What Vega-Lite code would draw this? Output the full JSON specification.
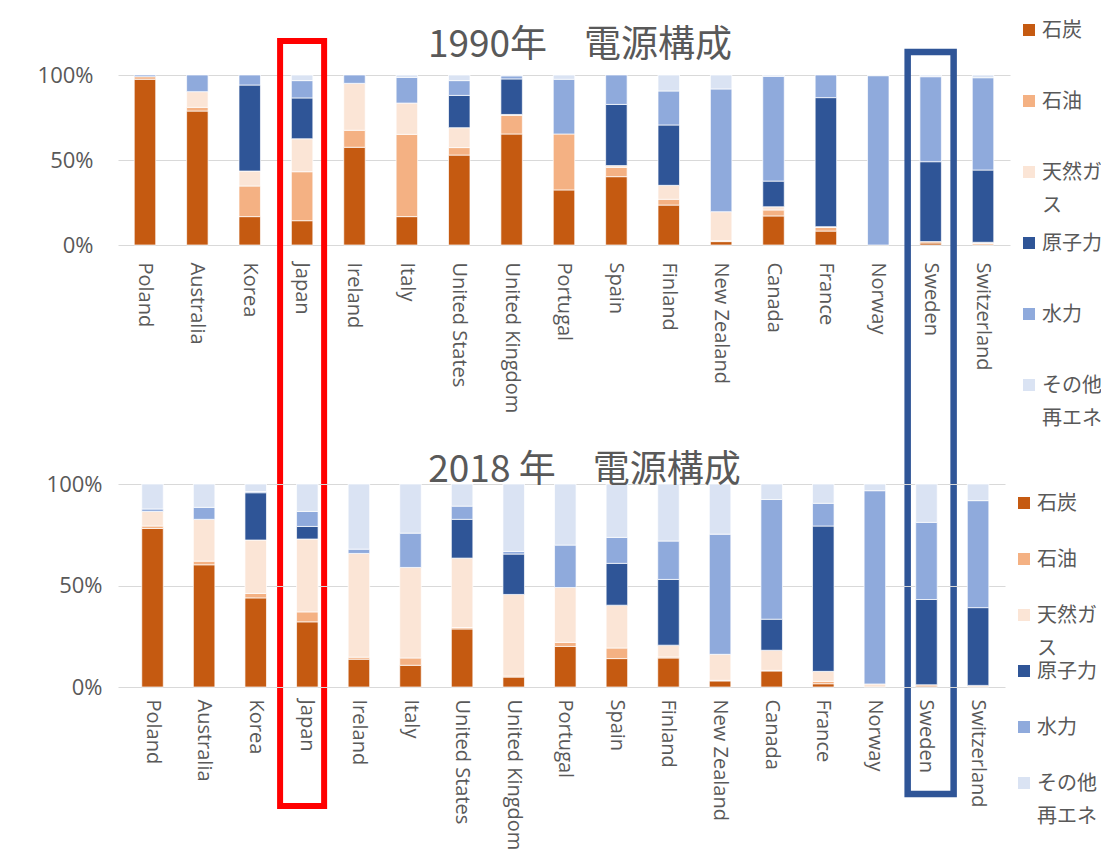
{
  "$schema": "https://vega.github.io/schema/vega-lite/v6.json",
  "usermeta": {"embedOptions": {"actions": false}},
  "background": "white",
  "padding": {"left": 37, "top": 20, "right": 0, "bottom": 0},
  "config": {
    "font": "Open Sans",
    "view": {"stroke": null},
    "title": {"font": "Noto Sans CJK JP", "fontSize": 37, "fontWeight": "normal", "color": "#595959", "anchor": "middle", "frame": "group"},
    "axis": {"labelColor": "#595959", "gridColor": "#D9D9D9", "gridWidth": 1, "domain": false, "ticks": false, "labelFont": "Open Sans"},
    "legend": {"labelFont": "Noto Sans CJK JP", "labelFontSize": 20, "labelColor": "#595959", "symbolType": "square", "symbolSize": 144, "symbolStrokeWidth": 0, "labelOffset": 3, "padding": 0}
  },
  "datasets": {
    "y1990": [
      {"country": "Poland", "source": "石炭", "share": 97.5}, {"country": "Poland", "source": "石油", "share": 1.5}, {"country": "Poland", "source": "水力", "share": 1.0},
      {"country": "Australia", "source": "石炭", "share": 78.8}, {"country": "Australia", "source": "石油", "share": 2.2}, {"country": "Australia", "source": "天然ガス", "share": 9.2}, {"country": "Australia", "source": "水力", "share": 9.8},
      {"country": "Korea", "source": "石炭", "share": 16.7}, {"country": "Korea", "source": "石油", "share": 18.0}, {"country": "Korea", "source": "天然ガス", "share": 8.8}, {"country": "Korea", "source": "原子力", "share": 50.6}, {"country": "Korea", "source": "水力", "share": 5.9},
      {"country": "Japan", "source": "石炭", "share": 14.3}, {"country": "Japan", "source": "石油", "share": 28.8}, {"country": "Japan", "source": "天然ガス", "share": 19.4}, {"country": "Japan", "source": "原子力", "share": 24.0}, {"country": "Japan", "source": "水力", "share": 10.2}, {"country": "Japan", "source": "その他再エネ", "share": 3.3},
      {"country": "Ireland", "source": "石炭", "share": 57.5}, {"country": "Ireland", "source": "石油", "share": 10.0}, {"country": "Ireland", "source": "天然ガス", "share": 27.6}, {"country": "Ireland", "source": "水力", "share": 4.9},
      {"country": "Italy", "source": "石炭", "share": 16.7}, {"country": "Italy", "source": "石油", "share": 48.4}, {"country": "Italy", "source": "天然ガス", "share": 18.4}, {"country": "Italy", "source": "水力", "share": 15.1}, {"country": "Italy", "source": "その他再エネ", "share": 1.4},
      {"country": "United States", "source": "石炭", "share": 52.9}, {"country": "United States", "source": "石油", "share": 4.4}, {"country": "United States", "source": "天然ガス", "share": 11.7}, {"country": "United States", "source": "原子力", "share": 19.0}, {"country": "United States", "source": "水力", "share": 8.7}, {"country": "United States", "source": "その他再エネ", "share": 3.3},
      {"country": "United Kingdom", "source": "石炭", "share": 65.3}, {"country": "United Kingdom", "source": "石油", "share": 11.0}, {"country": "United Kingdom", "source": "天然ガス", "share": 0.5}, {"country": "United Kingdom", "source": "原子力", "share": 20.9}, {"country": "United Kingdom", "source": "水力", "share": 1.8}, {"country": "United Kingdom", "source": "その他再エネ", "share": 0.5},
      {"country": "Portugal", "source": "石炭", "share": 32.4}, {"country": "Portugal", "source": "石油", "share": 32.9}, {"country": "Portugal", "source": "水力", "share": 32.2}, {"country": "Portugal", "source": "その他再エネ", "share": 2.5},
      {"country": "Spain", "source": "石炭", "share": 40.2}, {"country": "Spain", "source": "石油", "share": 5.5}, {"country": "Spain", "source": "天然ガス", "share": 1.0}, {"country": "Spain", "source": "原子力", "share": 36.0}, {"country": "Spain", "source": "水力", "share": 17.3},
      {"country": "Finland", "source": "石炭", "share": 23.5}, {"country": "Finland", "source": "石油", "share": 3.4}, {"country": "Finland", "source": "天然ガス", "share": 8.2}, {"country": "Finland", "source": "原子力", "share": 35.5}, {"country": "Finland", "source": "水力", "share": 20.0}, {"country": "Finland", "source": "その他再エネ", "share": 9.4},
      {"country": "New Zealand", "source": "石炭", "share": 2.0}, {"country": "New Zealand", "source": "石油", "share": 0.5}, {"country": "New Zealand", "source": "天然ガス", "share": 17.1}, {"country": "New Zealand", "source": "水力", "share": 72.2}, {"country": "New Zealand", "source": "その他再エネ", "share": 8.2},
      {"country": "Canada", "source": "石炭", "share": 17.1}, {"country": "Canada", "source": "石油", "share": 3.5}, {"country": "Canada", "source": "天然ガス", "share": 1.9}, {"country": "Canada", "source": "原子力", "share": 15.1}, {"country": "Canada", "source": "水力", "share": 61.6}, {"country": "Canada", "source": "その他再エネ", "share": 0.8},
      {"country": "France", "source": "石炭", "share": 8.2}, {"country": "France", "source": "石油", "share": 2.1}, {"country": "France", "source": "天然ガス", "share": 0.5}, {"country": "France", "source": "原子力", "share": 75.9}, {"country": "France", "source": "水力", "share": 13.3},
      {"country": "Norway", "source": "水力", "share": 99.6}, {"country": "Norway", "source": "その他再エネ", "share": 0.4},
      {"country": "Sweden", "source": "石炭", "share": 1.2}, {"country": "Sweden", "source": "石油", "share": 0.8}, {"country": "Sweden", "source": "原子力", "share": 47.0}, {"country": "Sweden", "source": "水力", "share": 50.0}, {"country": "Sweden", "source": "その他再エネ", "share": 1.0},
      {"country": "Switzerland", "source": "石油", "share": 0.8}, {"country": "Switzerland", "source": "天然ガス", "share": 0.8}, {"country": "Switzerland", "source": "原子力", "share": 42.5}, {"country": "Switzerland", "source": "水力", "share": 54.3}, {"country": "Switzerland", "source": "その他再エネ", "share": 1.6}
    ],
    "y2018": [
      {"country": "Poland", "source": "石炭", "share": 78.1}, {"country": "Poland", "source": "石油", "share": 1.2}, {"country": "Poland", "source": "天然ガス", "share": 7.2}, {"country": "Poland", "source": "水力", "share": 1.2}, {"country": "Poland", "source": "その他再エネ", "share": 12.3},
      {"country": "Australia", "source": "石炭", "share": 60.2}, {"country": "Australia", "source": "石油", "share": 1.8}, {"country": "Australia", "source": "天然ガス", "share": 20.6}, {"country": "Australia", "source": "水力", "share": 5.9}, {"country": "Australia", "source": "その他再エネ", "share": 11.5},
      {"country": "Korea", "source": "石炭", "share": 43.9}, {"country": "Korea", "source": "石油", "share": 2.2}, {"country": "Korea", "source": "天然ガス", "share": 26.3}, {"country": "Korea", "source": "原子力", "share": 23.3}, {"country": "Korea", "source": "水力", "share": 0.6}, {"country": "Korea", "source": "その他再エネ", "share": 3.7},
      {"country": "Japan", "source": "石炭", "share": 32.1}, {"country": "Japan", "source": "石油", "share": 4.9}, {"country": "Japan", "source": "天然ガス", "share": 35.9}, {"country": "Japan", "source": "原子力", "share": 6.2}, {"country": "Japan", "source": "水力", "share": 7.4}, {"country": "Japan", "source": "その他再エネ", "share": 13.5},
      {"country": "Ireland", "source": "石炭", "share": 13.7}, {"country": "Ireland", "source": "石油", "share": 1.0}, {"country": "Ireland", "source": "天然ガス", "share": 51.1}, {"country": "Ireland", "source": "水力", "share": 2.1}, {"country": "Ireland", "source": "その他再エネ", "share": 32.1},
      {"country": "Italy", "source": "石炭", "share": 10.7}, {"country": "Italy", "source": "石油", "share": 3.6}, {"country": "Italy", "source": "天然ガス", "share": 44.6}, {"country": "Italy", "source": "水力", "share": 16.9}, {"country": "Italy", "source": "その他再エネ", "share": 24.2},
      {"country": "United States", "source": "石炭", "share": 28.6}, {"country": "United States", "source": "石油", "share": 0.7}, {"country": "United States", "source": "天然ガス", "share": 34.2}, {"country": "United States", "source": "原子力", "share": 19.1}, {"country": "United States", "source": "水力", "share": 6.5}, {"country": "United States", "source": "その他再エネ", "share": 10.9},
      {"country": "United Kingdom", "source": "石炭", "share": 4.9}, {"country": "United Kingdom", "source": "石油", "share": 0.5}, {"country": "United Kingdom", "source": "天然ガス", "share": 40.2}, {"country": "United Kingdom", "source": "原子力", "share": 19.9}, {"country": "United Kingdom", "source": "水力", "share": 1.3}, {"country": "United Kingdom", "source": "その他再エネ", "share": 33.2},
      {"country": "Portugal", "source": "石炭", "share": 20.0}, {"country": "Portugal", "source": "石油", "share": 2.0}, {"country": "Portugal", "source": "天然ガス", "share": 27.0}, {"country": "Portugal", "source": "水力", "share": 20.9}, {"country": "Portugal", "source": "その他再エネ", "share": 30.1},
      {"country": "Spain", "source": "石炭", "share": 14.0}, {"country": "Spain", "source": "石油", "share": 5.2}, {"country": "Spain", "source": "天然ガス", "share": 21.1}, {"country": "Spain", "source": "原子力", "share": 20.6}, {"country": "Spain", "source": "水力", "share": 12.8}, {"country": "Spain", "source": "その他再エネ", "share": 26.3},
      {"country": "Finland", "source": "石炭", "share": 14.3}, {"country": "Finland", "source": "石油", "share": 0.5}, {"country": "Finland", "source": "天然ガス", "share": 5.8}, {"country": "Finland", "source": "原子力", "share": 32.4}, {"country": "Finland", "source": "水力", "share": 18.9}, {"country": "Finland", "source": "その他再エネ", "share": 28.1},
      {"country": "New Zealand", "source": "石炭", "share": 3.0}, {"country": "New Zealand", "source": "石油", "share": 0.3}, {"country": "New Zealand", "source": "天然ガス", "share": 12.8}, {"country": "New Zealand", "source": "水力", "share": 59.2}, {"country": "New Zealand", "source": "その他再エネ", "share": 24.7},
      {"country": "Canada", "source": "石炭", "share": 7.9}, {"country": "Canada", "source": "石油", "share": 0.3}, {"country": "Canada", "source": "天然ガス", "share": 9.9}, {"country": "Canada", "source": "原子力", "share": 15.3}, {"country": "Canada", "source": "水力", "share": 59.0}, {"country": "Canada", "source": "その他再エネ", "share": 7.6},
      {"country": "France", "source": "石炭", "share": 1.6}, {"country": "France", "source": "石油", "share": 1.2}, {"country": "France", "source": "天然ガス", "share": 4.9}, {"country": "France", "source": "原子力", "share": 71.6}, {"country": "France", "source": "水力", "share": 11.2}, {"country": "France", "source": "その他再エネ", "share": 9.5},
      {"country": "Norway", "source": "天然ガス", "share": 1.5}, {"country": "Norway", "source": "水力", "share": 95.2}, {"country": "Norway", "source": "その他再エネ", "share": 3.3},
      {"country": "Sweden", "source": "石炭", "share": 0.5}, {"country": "Sweden", "source": "石油", "share": 0.6}, {"country": "Sweden", "source": "原子力", "share": 42.0}, {"country": "Sweden", "source": "水力", "share": 38.0}, {"country": "Sweden", "source": "その他再エネ", "share": 18.9},
      {"country": "Switzerland", "source": "天然ガス", "share": 0.8}, {"country": "Switzerland", "source": "原子力", "share": 38.3}, {"country": "Switzerland", "source": "水力", "share": 52.7}, {"country": "Switzerland", "source": "その他再エネ", "share": 8.2}
    ],
    "redBox": [{"country": "Japan", "top": 1.2, "bottom": -3.3}],
    "blueBox": [{"country": "Sweden", "top": 1.135, "bottom": -3.23}]
  },
  "columns": 1,
  "bounds": "flush",
  "spacing": 239,
  "resolve": {"scale": {"color": "independent"}, "legend": {"color": "independent"}},
  "concat": [
    {
      "width": 892,
      "height": 170,
      "title": {"text": "1990年　電源構成", "dx": 16, "offset": -45},
      "layer": [
        {
          "data": {"name": "y1990"},
          "transform": [{"calculate": "indexof(['石炭', '石油', '天然ガス', '原子力', '水力', 'その他再エネ'], datum.source)", "as": "rank"}],
          "mark": {"type": "bar", "stroke": "white", "strokeWidth": 0.7},
          "encoding": {
            "x": {"field": "country", "type": "nominal", "sort": null, "title": null,
              "scale": {"domain": ["Poland", "Australia", "Korea", "Japan", "Ireland", "Italy", "United States", "United Kingdom", "Portugal", "Spain", "Finland", "New Zealand", "Canada", "France", "Norway", "Sweden", "Switzerland"], "paddingInner": 0.59, "paddingOuter": 0.31},
              "axis": {"labelAngle": 90, "labelFontSize": 20, "labelPadding": 17, "grid": false}},
            "y": {"field": "share", "type": "quantitative", "stack": "normalize", "title": null,
              "scale": {"domain": [0, 1]},
              "axis": {"values": [0, 0.5, 1], "format": "%", "labelFontSize": 22, "labelPadding": 25, "grid": true}},
            "order": {"field": "rank", "type": "quantitative", "sort": "ascending"},
            "color": {"field": "source", "type": "nominal",
              "scale": {"domain": ["石炭", "石油", "天然ガス", "原子力", "水力", "その他再エネ"], "range": ["#C55A11", "#F4B183", "#FBE5D6", "#2F5597", "#8FAADC", "#DAE3F3"]},
              "legend": {"title": null, "orient": "none", "legendX": 901, "legendY": -55, "direction": "vertical", "columns": 1, "gridAlign": "all", "rowPadding": 17, "labelBaseline": "top",
                "labelExpr": "datum.label == '天然ガス' ? ['天然ガ', 'ス'] : datum.label == 'その他再エネ' ? ['その他', '再エネ'] : datum.label",
                "encoding": {"labels": {"dy": {"value": -9}, "lineHeight": {"value": 33}}}}}
          }
        },
        {
          "data": {"name": "redBox"},
          "mark": {"type": "rect", "filled": false, "stroke": "#FF0000", "strokeWidth": 6, "width": {"band": 2.05}},
          "encoding": {
            "x": {"field": "country", "type": "nominal", "sort": null},
            "y": {"field": "top", "type": "quantitative", "title": null},
            "y2": {"field": "bottom"}
          }
        },
        {
          "data": {"name": "blueBox"},
          "mark": {"type": "rect", "filled": false, "stroke": "#2F5597", "strokeWidth": 6.5, "width": {"band": 2.14}},
          "encoding": {
            "x": {"field": "country", "type": "nominal", "sort": null},
            "y": {"field": "top", "type": "quantitative", "title": null},
            "y2": {"field": "bottom"}
          }
        }
      ]
    },
    {
      "width": 887,
      "height": 203,
      "title": {"text": "2018 年　電源構成", "dx": 23, "offset": -17},
      "data": {"name": "y2018"},
      "transform": [{"calculate": "indexof(['石炭', '石油', '天然ガス', '原子力', '水力', 'その他再エネ'], datum.source)", "as": "rank"}],
      "mark": {"type": "bar", "stroke": "white", "strokeWidth": 0.7},
      "encoding": {
        "x": {"field": "country", "type": "nominal", "sort": null, "title": null,
          "scale": {"domain": ["Poland", "Australia", "Korea", "Japan", "Ireland", "Italy", "United States", "United Kingdom", "Portugal", "Spain", "Finland", "New Zealand", "Canada", "France", "Norway", "Sweden", "Switzerland"], "paddingInner": 0.583, "paddingOuter": 0.387, "align": 0.595},
          "axis": {"labelAngle": 90, "labelFontSize": 20, "labelPadding": 12, "grid": false}},
        "y": {"field": "share", "type": "quantitative", "stack": "normalize", "title": null,
          "scale": {"domain": [0, 1]},
          "axis": {"values": [0, 0.5, 1], "format": "%", "labelFontSize": 22, "labelPadding": 16, "grid": true}},
        "order": {"field": "rank", "type": "quantitative", "sort": "ascending"},
        "color": {"field": "source", "type": "nominal",
          "scale": {"domain": ["石炭", "石油", "天然ガス", "原子力", "水力", "その他再エネ"], "range": ["#C55A11", "#F4B183", "#FBE5D6", "#2F5597", "#8FAADC", "#DAE3F3"]},
          "legend": {"title": null, "orient": "none", "legendX": 896, "legendY": 9, "direction": "vertical", "columns": 1, "gridAlign": "all", "rowPadding": 2, "labelBaseline": "top",
            "labelExpr": "datum.label == '天然ガス' ? ['天然ガ', 'ス'] : datum.label == 'その他再エネ' ? ['その他', '再エネ'] : datum.label",
            "encoding": {"labels": {"dy": {"value": -9}, "lineHeight": {"value": 33}}}}}
      }
    }
  ]
}
